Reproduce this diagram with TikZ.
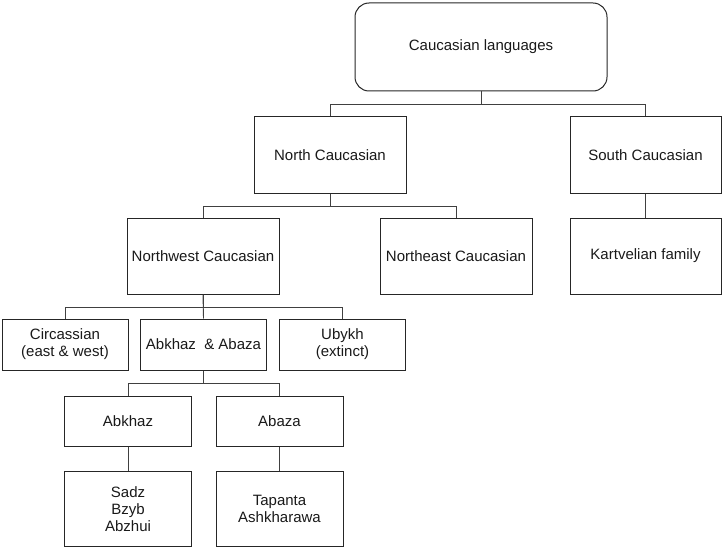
\documentclass[tikz,border=0pt]{standalone}
\usepackage{fontspec}
\setmainfont{Liberation Sans}
\begin{document}
\begin{tikzpicture}[x=1pt,y=-1pt,
  box/.style={draw=black!85, line width=1pt, inner sep=0pt, align=center,
    font=\fontsize{15}{17}\selectfont, text=black!90},
  link/.style={draw=black!75, line width=0.9pt}]
\useasboundingbox (0,0) rectangle (722,548);
% root
\node[box, rounded corners=14pt, minimum width=252, minimum height=88] (lang) at (481,47) {Caucasian languages};
% first level
\node[box, minimum width=152, minimum height=76] (nc) at (330,155) {North Caucasian};
\node[box, minimum width=151, minimum height=76] (sc) at (645.5,155) {South Caucasian};
% second level
\node[box, minimum width=152, minimum height=76] (nw) at (203,256) {Northwest Caucasian};
\node[box, minimum width=152, minimum height=76] (ne) at (456,256) {Northeast Caucasian};
\node[box, minimum width=151, minimum height=76] (kf) at (645.5,256) {Kartvelian family};
% northwest branches
\node[box, minimum width=126, minimum height=51] (circ) at (65,344.5) {Circassian\\(east \& west)};
\node[box, minimum width=126, minimum height=51] (aa) at (203.5,344.5) {Abkhaz~ \& Abaza};
\node[box, minimum width=126, minimum height=51] (ub) at (342.5,344.5) {Ubykh\\(extinct)};
% abkhaz-abaza
\node[box, minimum width=127, minimum height=50] (abk) at (128,421) {Abkhaz};
\node[box, minimum width=127, minimum height=50] (aba) at (279.5,421) {Abaza};
\node[box, minimum width=127, minimum height=75] (sadz) at (128,509) {Sadz\\Bzyb\\Abzhui};
\node[box, minimum width=127, minimum height=75] (tap) at (279.5,509) {Tapanta\\Ashkharawa};
% connectors
\draw[link] (lang.south) -- ++(0,13) -| (nc.north);
\draw[link] (lang.south) -- ++(0,13) -| (sc.north);
\draw[link] (nc.south) -- ++(0,13) -| (nw.north);
\draw[link] (nc.south) -- ++(0,13) -| (ne.north);
\draw[link] (sc.south) -- (kf.north);
\draw[link] (nw.south) -- ++(0,13) -| (circ.north);
\draw[link] (nw.south) -- (aa.north);
\draw[link] (nw.south) -- ++(0,13) -| (ub.north);
\draw[link] (aa.south) -- ++(0,13) -| (abk.north);
\draw[link] (aa.south) -- ++(0,13) -| (aba.north);
\draw[link] (abk.south) -- (sadz.north);
\draw[link] (aba.south) -- (tap.north);
\end{tikzpicture}
\end{document}
